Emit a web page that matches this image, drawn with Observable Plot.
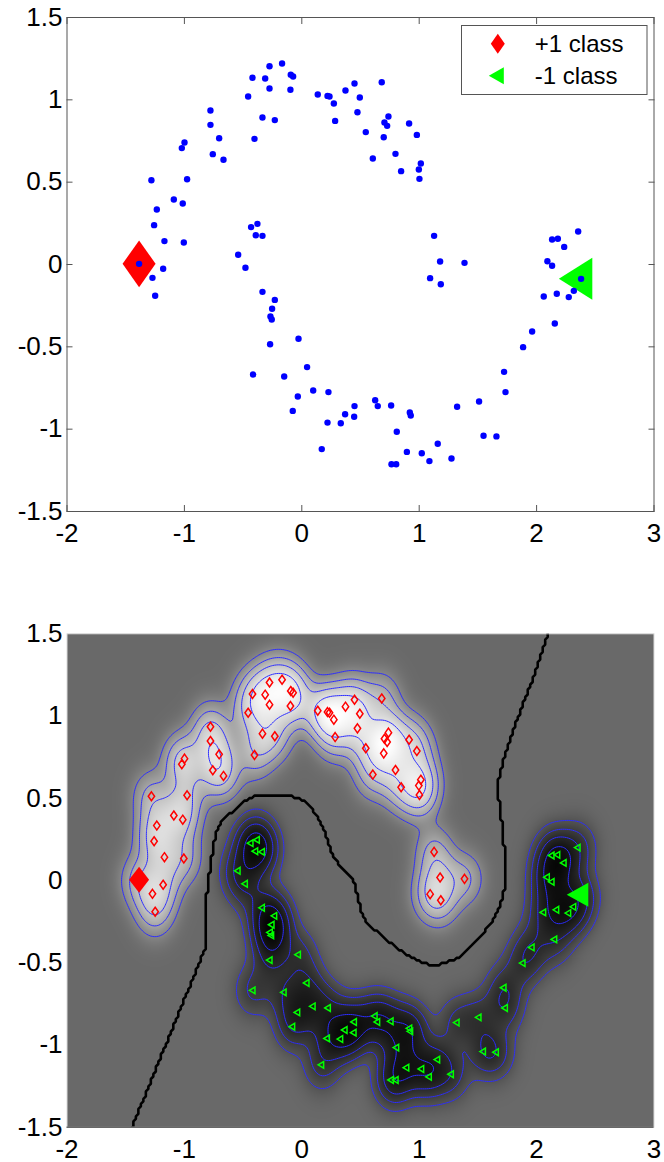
<!DOCTYPE html>
<html><head><meta charset="utf-8">
<script src="https://cdn.jsdelivr.net/npm/d3@7"></script>
<script src="https://cdn.jsdelivr.net/npm/@observablehq/plot@0.6"></script>
<style>
body{margin:0;background:#fff;}
#wrap{position:relative;width:664px;height:1162px;font-family:"Liberation Sans",Arial,sans-serif;}
#wrap svg{display:block;}
#legend{position:absolute;left:460.5px;top:24.5px;}
</style></head><body><div id="wrap"></div>
<script>
// ---- data ----
const xTicks = [-2, -1, 0, 1, 2, 3];
const yTicks = [-1.5, -1, -0.5, 0, 0.5, 1, 1.5];
const legendLabels = ["+1 class", "-1 class"];

// class +1 (upper moon) points
const posX = [-1.386,-1.281,-1.235,-1.258,-1.170,-1.181,-1.090,-1.014,-1.005,-0.977,-1.022,-0.999,-0.778,-0.778,-0.704,-0.758,-0.667,-0.457,-0.420,-0.312,-0.275,-0.275,-0.168,-0.094,-0.074,-0.097,-0.335,-0.230,-0.403,0.136,0.219,0.236,0.273,0.284,0.372,0.449,0.494,0.474,0.681,0.738,0.704,0.727,0.545,0.698,0.605,0.798,0.846,0.914,0.980,1.014,0.997,1.002,1.127,1.178,1.386,-1.272,-1.249,1.093,1.184];
const posY = [0.004,0.512,0.334,0.239,0.142,-0.026,0.395,0.370,0.134,0.518,0.707,0.741,0.935,0.848,0.767,0.670,0.636,1.020,1.134,1.130,1.204,1.069,1.221,1.152,1.142,1.061,0.893,0.877,0.763,1.032,1.024,1.020,0.978,0.872,1.057,1.099,1.014,0.925,1.107,0.899,0.862,0.842,0.804,0.773,0.644,0.672,0.567,0.856,0.787,0.613,0.577,0.520,0.174,0.018,0.010,-0.081,-0.190,-0.083,-0.120];
// class -1 (lower moon) points
const negX = [-0.542,-0.480,-0.432,-0.378,-0.392,-0.335,-0.335,-0.230,-0.253,-0.267,-0.256,-0.270,-0.028,-0.415,-0.150,0.045,0.097,-0.034,-0.077,0.227,0.449,0.369,0.446,0.219,0.332,0.170,2.132,2.181,2.354,2.235,2.092,2.132,2.379,2.061,2.172,2.274,2.317,2.155,1.962,1.885,1.723,1.735,1.510,1.323,0.625,0.647,0.761,0.920,0.928,0.809,0.764,0.804,0.895,1.022,1.087,1.158,1.275,1.548,1.658];
const negY = [0.059,-0.020,0.227,0.247,0.178,0.174,-0.166,-0.215,-0.269,-0.316,-0.334,-0.484,-0.451,-0.668,-0.680,-0.623,-0.765,-0.802,-0.889,-0.775,-0.860,-0.909,-0.925,-0.960,-0.964,-1.121,0.152,0.156,0.200,0.107,0.020,-0.008,-0.087,-0.194,-0.178,-0.198,-0.160,-0.358,-0.407,-0.502,-0.652,-0.775,-0.832,-0.864,-0.824,-0.860,-0.856,-0.899,-0.917,-1.016,-1.213,-1.213,-1.138,-1.146,-1.194,-1.089,-1.178,-1.040,-1.044];
// the two labelled points
const labelPosX = [-1.386], labelPosY = [0.004];
const labelNegX = [2.379], labelNegY = [-0.087];

// ---- tables ----
const posPts = posX.map((x, i) => ({x, y: posY[i]}));
const negPts = negX.map((x, i) => ({x, y: negY[i]}));
const allPts = posPts.concat(negPts);
const labPos = labelPosX.map((x, i) => ({x, y: labelPosY[i]}));
const labNeg = labelNegX.map((x, i) => ({x, y: labelNegY[i]}));

// ---- decision function built from the points (kernel expansion) ----
const SIG = 0.105, S2 = 2 * SIG * SIG, C = 3;
function field(x, y) {
  let p = 0, n = 0;
  for (let i = 0; i < posX.length; i++) { const dx = x - posX[i], dy = y - posY[i]; p += Math.exp(-(dx*dx + dy*dy) / S2); }
  for (let i = 0; i < negX.length; i++) { const dx = x - negX[i], dy = y - negY[i]; n += Math.exp(-(dx*dx + dy*dy) / S2); }
  return (p - n) / (p + n + C);
}
const levels = [-0.48, -0.36, -0.24, -0.12, 0.12, 0.24, 0.36, 0.48];

// ---- symbols ----
function diamond(aspect) {
  return {draw(ctx, size) { const r = Math.sqrt(size / Math.PI);
    ctx.moveTo(0, -aspect * r); ctx.lineTo(r, 0); ctx.lineTo(0, aspect * r); ctx.lineTo(-r, 0); ctx.closePath(); }};
}
function triLeft(h) {
  return {draw(ctx, size) { const r = Math.sqrt(size / Math.PI);
    ctx.moveTo(-1.33 * r, 0); ctx.lineTo(0.67 * r, -h * r); ctx.lineTo(0.67 * r, h * r); ctx.closePath(); }};
}

const FONT = '"Liberation Sans", Arial, sans-serif';
const W = 664;
const fmt = d => String(d);
const frameCol = "#555";

const topPlot = Plot.plot({
  width: W, height: 560,
  marginLeft: 66.5, marginRight: 10.5, marginTop: 17, marginBottom: 49,
  x: {domain: [xTicks[0], xTicks[xTicks.length - 1]], label: null},
  y: {domain: [yTicks[0], yTicks[yTicks.length - 1]], label: null},
  style: {fontFamily: FONT, background: "white", color: "black", overflow: "visible"},
  marks: [
    Plot.frame({stroke: frameCol}),
    Plot.axisX(xTicks, {anchor: "bottom", tickSize: 6, dy: -6, fill: "none", stroke: frameCol}),
    Plot.axisX(xTicks, {anchor: "top", tickSize: 6, dy: 6, fill: "none", stroke: frameCol}),
    Plot.axisY(yTicks, {anchor: "left", tickSize: 6, dx: 6, fill: "none", stroke: frameCol}),
    Plot.axisY(yTicks, {anchor: "right", tickSize: 6, dx: -6, fill: "none", stroke: frameCol}),
    Plot.axisX(xTicks, {anchor: "bottom", tickSize: 0, tickPadding: 12, tickFormat: fmt, fontSize: 26, fill: "black"}),
    Plot.axisY(yTicks, {anchor: "left", tickSize: 0, tickPadding: 4.5, tickFormat: fmt, fontSize: 26, fill: "black"}),
    Plot.dot(labPos, {x: "x", y: "y", symbol: diamond(1.42), r: 16.5, fill: "#ff0000", stroke: null}),
    Plot.dot(labNeg, {x: "x", y: "y", symbol: triLeft(1.26), r: 16.7, fill: "#00ff00", stroke: null}),
    Plot.dot(allPts, {x: "x", y: "y", r: 3.2, fill: "#0000ff", stroke: null})
  ]
});

const botPlot = Plot.plot({
  width: W, height: 602,
  marginLeft: 66.5, marginRight: 10.5, marginTop: 73.3, marginBottom: 35.3,
  x: {domain: [xTicks[0], xTicks[xTicks.length - 1]], label: null},
  y: {domain: [yTicks[0], yTicks[yTicks.length - 1]], label: null},
  color: {type: "linear", domain: [-0.6, 0, 0.6], range: ["#000000", "#696969", "#ffffff"], interpolate: "rgb", clamp: true},
  style: {fontFamily: FONT, background: "white", color: "black", overflow: "visible"},
  marks: [
    Plot.raster({fill: field, x1: -2, x2: 3, y1: -1.5, y2: 1.5, pixelSize: 1}),
    Plot.contour({value: field, x1: -2.2, x2: 3.2, y1: -1.7, y2: 1.7, thresholds: levels, fill: "none", stroke: "#2d2dff", strokeWidth: 1, clip: true}),
    Plot.contour({value: field, x1: -2.2, x2: 3.2, y1: -1.7, y2: 1.7, thresholds: [0], fill: "none", stroke: "#000", strokeWidth: 2.6, smooth: false, pixelSize: 2.5, clip: true}),
    Plot.frame({stroke: "#dcdcdc"}),
    Plot.ruleY([yTicks[0]], {stroke: "#333"}),
    Plot.axisX(xTicks, {anchor: "bottom", tickSize: 0, tickPadding: 12, tickFormat: fmt, fontSize: 26, fill: "black"}),
    Plot.axisY(yTicks, {anchor: "left", tickSize: 0, tickPadding: 4.5, tickFormat: fmt, fontSize: 26, fill: "black"}),
    Plot.dot(posPts, {x: "x", y: "y", symbol: diamond(1.4), r: 3.2, fill: "none", stroke: "#ff0000", strokeWidth: 1.5}),
    Plot.dot(negPts, {x: "x", y: "y", symbol: triLeft(1.2), r: 2.8, fill: "none", stroke: "#00ff00", strokeWidth: 1.5}),
    Plot.dot(labPos, {x: "x", y: "y", symbol: diamond(1.3), r: 10, fill: "#ff0000", stroke: null}),
    Plot.dot(labNeg, {x: "x", y: "y", symbol: triLeft(1.11), r: 10.8, fill: "#00ff00", stroke: null})
  ]
});

const wrap = document.getElementById("wrap");
wrap.appendChild(topPlot);
wrap.appendChild(botPlot);

// legend
const ns = "http://www.w3.org/2000/svg";
const lg = document.createElementNS(ns, "svg");
lg.setAttribute("id", "legend");
lg.setAttribute("width", 187); lg.setAttribute("height", 71);
lg.innerHTML = `
  <rect x="0.5" y="0.5" width="185.5" height="69" fill="#fff" stroke="${frameCol}" stroke-width="1"/>
  <path d="M36.8,8.8 L43.8,18.8 L36.8,28.8 L29.8,18.8 Z" fill="#ff0000"/>
  <path d="M27.8,50.8 L42.8,42.3 L42.8,59.3 Z" fill="#00ff00"/>
  <text x="73.8" y="27.2" font-size="24" font-family='${FONT}' fill="#000">${legendLabels[0]}</text>
  <text x="73.8" y="58.8" font-size="24" font-family='${FONT}' fill="#000">${legendLabels[1]}</text>`;
wrap.appendChild(lg);
</script></body></html>
